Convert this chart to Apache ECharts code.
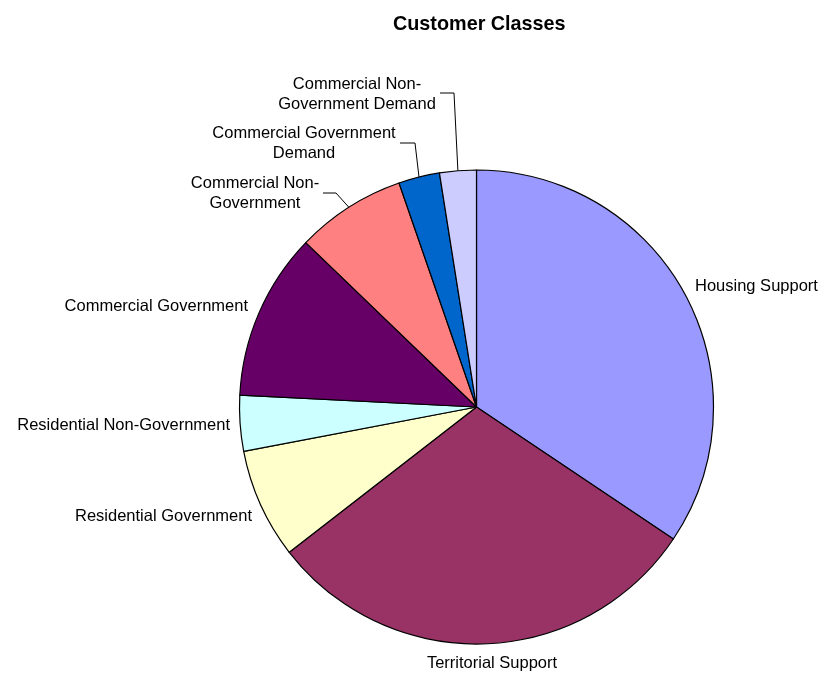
<!DOCTYPE html>
<html>
<head>
<meta charset="utf-8">
<style>
  html, body { margin: 0; padding: 0; background: #ffffff; }
  #chart { width: 822px; height: 673px; }
</style>
<script src="https://cdn.jsdelivr.net/npm/echarts@6/dist/echarts.min.js"></script>
</head>
<body>
<div id="chart"></div>
<script>
// Share of each customer class (percent), clockwise from 12 o'clock
const classNames = [
  'Housing Support',
  'Territorial Support',
  'Residential Government',
  'Residential Non-Government',
  'Commercial Government',
  'Commercial Non-Government',
  'Commercial Government Demand',
  'Commercial Non-Government Demand'
];
const classLabels = [
  'Housing Support',
  'Territorial Support',
  'Residential Government',
  'Residential Non-Government',
  'Commercial Government',
  'Commercial Non-\nGovernment',
  'Commercial Government\nDemand',
  'Commercial Non-\nGovernment Demand'
];
const classShares = [34.4, 30.1, 7.5, 3.8, 11.4, 7.5, 2.8, 2.5];
const classColors = ['#9999FF', '#993366', '#FFFFCC', '#CCFFFF', '#660066', '#FF8080', '#0066CC', '#CCCCFF'];

// Where each label sits (anchor point and alignment); `leader` marks labels
// joined to their slice by an elbow line.
const labelSpots = [
  { x: 695, y: 286, align: 'left' },
  { x: 492, y: 663, align: 'center' },
  { x: 252, y: 516, align: 'right' },
  { x: 230, y: 425, align: 'right' },
  { x: 248, y: 306, align: 'right' },
  { x: 255, y: 193, align: 'center', leader: { x0: 323, x1: 336, y: 193 } },
  { x: 304, y: 143, align: 'center', leader: { x0: 400, x1: 415, y: 143 } },
  { x: 357, y: 94,  align: 'center', leader: { x0: 440, x1: 454, y: 93 } }
];

const chart = echarts.init(document.getElementById('chart'), null, { renderer: 'canvas' });

const seriesData = classNames.map((name, i) => ({
  name: name,
  value: classShares[i],
  itemStyle: { color: classColors[i] },
  labelLine: { show: !!labelSpots[i].leader }
}));

chart.setOption({
  backgroundColor: '#ffffff',
  animation: false,
  title: {
    text: 'Customer Classes',
    left: 388,
    top: 10,
    textStyle: {
      fontFamily: 'Liberation Sans, Arial, sans-serif',
      fontSize: 19.8,
      fontWeight: 'bold',
      color: '#000000'
    }
  },
  series: [{
    type: 'pie',
    center: [476.5, 407],
    radius: 237,
    startAngle: 90,
    clockwise: true,
    avoidLabelOverlap: false,
    itemStyle: { borderColor: '#000000', borderWidth: 1.2 },
    emphasis: { disabled: true },
    label: {
      show: true,
      position: 'outside',
      formatter: p => classLabels[p.dataIndex],
      fontFamily: 'Liberation Sans, Arial, sans-serif',
      fontSize: 16.5,
      lineHeight: 20,
      color: '#000000',
      textAlign: 'center'
    },
    labelLine: {
      show: true,
      length: 10,
      length2: 10,
      smooth: false,
      lineStyle: { color: '#000000', width: 1 }
    },
    labelLayout: function (params) {
      const spot = labelSpots[params.dataIndex];
      const out = {
        x: spot.x,
        y: spot.y,
        align: spot.align,
        verticalAlign: 'middle',
        hideOverlap: false,
        moveOverlap: null
      };
      if (spot.leader && params.labelLinePoints) {
        const edge = params.labelLinePoints[0];
        out.labelLinePoints = [
          [spot.leader.x0, spot.leader.y],
          [spot.leader.x1, spot.leader.y],
          [edge[0], edge[1]]
        ];
      }
      return out;
    },
    data: seriesData
  }]
});
</script>
</body>
</html>
